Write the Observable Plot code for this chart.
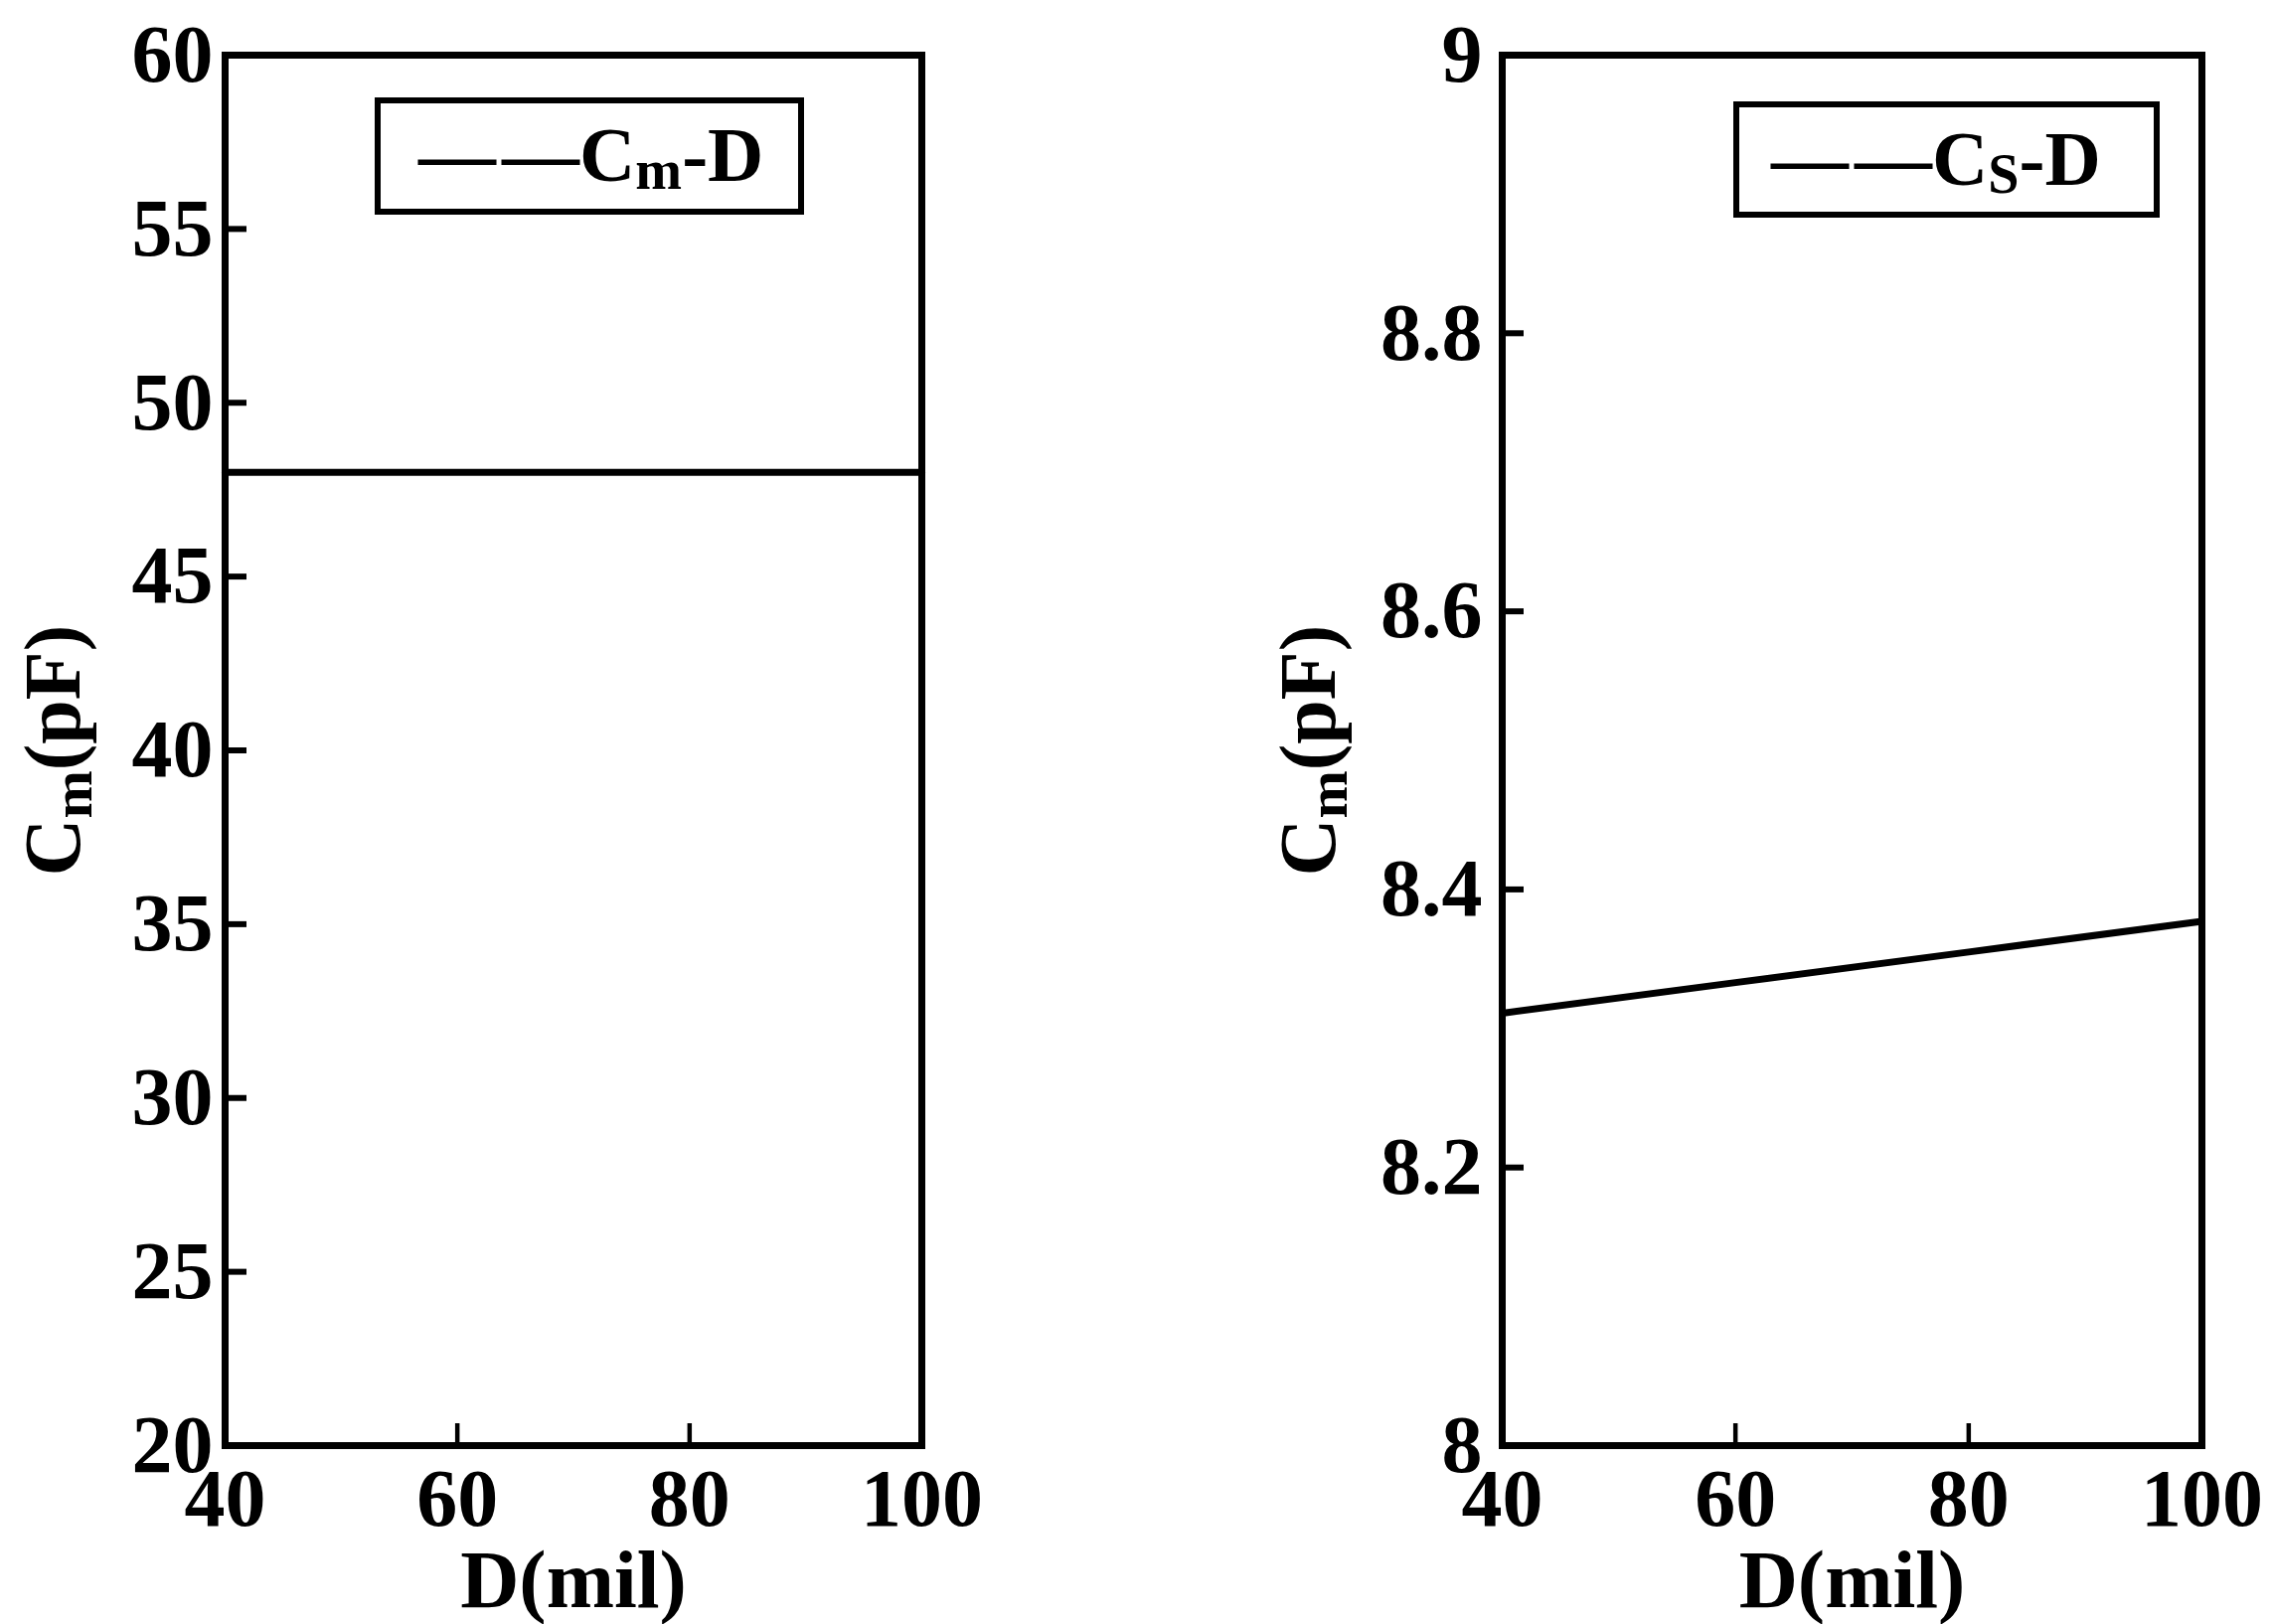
<!DOCTYPE html>
<html><head><meta charset="utf-8">
<script src="https://cdn.jsdelivr.net/npm/d3@7"></script>
<script src="https://cdn.jsdelivr.net/npm/@observablehq/plot@0.6"></script>
<style>
html,body{margin:0;padding:0;background:#fff;}
#wrap{position:relative;width:2285px;height:1634px;overflow:hidden;background:#fff;}
.panel{position:absolute;top:0;}
.legend{position:absolute;box-sizing:border-box;border:6px solid #000;background:#fff;font-family:"Liberation Serif","Times New Roman",serif;font-weight:bold;font-size:78px;color:#000;white-space:nowrap;}
.legend span.t{position:absolute;line-height:1;}
.legend sub{font-size:0.72em;vertical-align:-0.14em;line-height:0;}
</style></head><body><div id="wrap"></div>
<script>
// ---- data ----
const dValues = [40, 60, 80, 100];
const cmValues = [48, 48, 48, 48];
const csValues = [8.311, 8.333, 8.355, 8.377];
const xTickLabels = [40, 60, 80, 100];
const xTickMarks = [60, 80];
const yTicksLeft = [20, 25, 30, 35, 40, 45, 50, 55, 60];
const yTickMarksLeft = [25, 30, 35, 40, 45, 50, 55];
const yTicksRight = [8, 8.2, 8.4, 8.6, 8.8, 9];
const yTickMarksRight = [8.2, 8.4, 8.6, 8.8];
const xTitle = "D(mil)";
const yTitle = "Cm(pF)";

const FONT = '"Liberation Serif","Times New Roman",serif';
const NS = "http://www.w3.org/2000/svg";

function panel(o) {
  const data = dValues.map((d, i) => ({x: d, y: o.ys[i]}));
  const height = 1634, mT = 55, mB = 180;
  const innerH = height - mT - mB;
  const innerW = o.width - o.mL - o.mR;
  const svg = Plot.plot({
    width: o.width, height,
    marginLeft: o.mL, marginRight: o.mR, marginTop: mT, marginBottom: mB,
    x: {domain: [40, 100], axis: null},
    y: {domain: o.yDomain, axis: null},
    style: {fontFamily: FONT, fontWeight: "bold", background: "white", color: "black", overflow: "visible"},
    marks: [
      Plot.tickX(xTickMarks, {x: d => d, stroke: "black", strokeWidth: 4.5, insetTop: innerH - 22}),
      Plot.tickY(o.yTickMarks, {y: d => d, stroke: "black", strokeWidth: 6, insetRight: innerW - 22}),
      Plot.text(xTickLabels, {x: d => d, text: d => String(d), frameAnchor: "bottom", lineAnchor: "middle", dy: 54, fontSize: 82, fill: "black"}),
      Plot.text(o.yTicks, {y: d => d, text: d => String(d), frameAnchor: "left", textAnchor: "end", dx: o.yTickDx, fontSize: 82, fill: "black"}),
      Plot.line(data, {x: "x", y: "y", stroke: "black", strokeWidth: 7}),
      Plot.frame({stroke: "black", strokeWidth: 7}),
      Plot.text([xTitle], {frameAnchor: "bottom", lineAnchor: "middle", dy: 136, fontSize: 82, fill: "black"}),
      Plot.text([yTitle], {frameAnchor: "left", textAnchor: "middle", lineAnchor: "middle", rotate: -90, dx: o.yTitleDx, fontSize: 80, fill: "black"})
    ]
  });
  // subscript in the y title
  svg.querySelectorAll("text").forEach(t => {
    if (t.textContent === yTitle) {
      t.textContent = "";
      const a = document.createElementNS(NS, "tspan"); a.textContent = "C";
      const b = document.createElementNS(NS, "tspan"); b.textContent = "m";
      b.setAttribute("font-size", "58"); b.setAttribute("dy", "12");
      const c = document.createElementNS(NS, "tspan"); c.textContent = "(pF)";
      c.setAttribute("dy", "-12");
      t.append(a, b, c);
    }
  });
  const div = document.createElement("div");
  div.className = "panel";
  div.style.left = o.left + "px";
  div.appendChild(svg);
  return div;
}

const wrap = document.getElementById("wrap");
wrap.appendChild(panel({left: 0, width: 1142, mL: 226, mR: 215, yDomain: [20, 60], ys: cmValues,
  yTicks: yTicksLeft, yTickMarks: yTickMarksLeft, yTickDx: -12, yTitleDx: -172}));
wrap.appendChild(panel({left: 1142, width: 1143, mL: 369, mR: 70, yDomain: [8, 9], ys: csValues,
  yTicks: yTicksRight, yTickMarks: yTickMarksRight, yTickDx: -20, yTitleDx: -194}));

function legend(left, top, w, h, tx, ty, sub) {
  const d = document.createElement("div");
  d.className = "legend";
  Object.assign(d.style, {left: left + "px", top: top + "px", width: w + "px", height: h + "px"});
  const s = document.createElement("span");
  s.className = "t";
  s.style.left = tx + "px"; s.style.top = ty + "px";
  s.innerHTML = "—<span style=\"margin-left:6px\"></span>—C<sub>" + sub + "</sub>-D";
  d.appendChild(s);
  wrap.appendChild(d);
}
legend(377, 98, 432, 118, 38, 13, "m");
legend(1744, 102, 429, 117, 32, 13, "S");
</script>
</body></html>
